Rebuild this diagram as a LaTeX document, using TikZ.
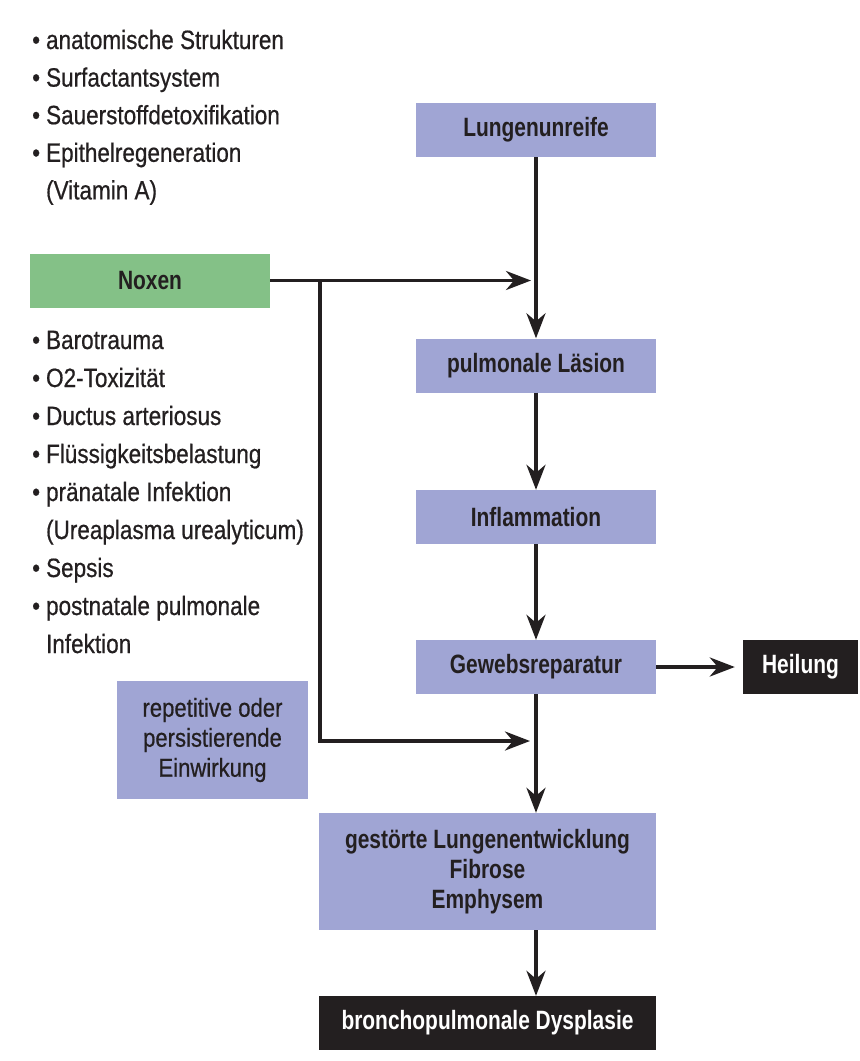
\documentclass[tikz,border=0pt]{standalone}
\usepackage{fontspec}
\setmainfont{Liberation Sans}[FakeStretch=0.85, UprightFeatures={FakeBold=0.6}, BoldFeatures={FakeStretch=0.79}]
\usetikzlibrary{arrows.meta}
\definecolor{boxblue}{RGB}{160,165,212}
\definecolor{boxgreen}{RGB}{132,193,135}
\definecolor{ink}{RGB}{35,31,32}
\tikzset{
  flowbox/.style={fill=boxblue, draw=none, minimum width=240pt, minimum height=54pt, inner sep=0pt, font=\fontsize{26.5}{30}\selectfont\bfseries, text=ink, align=center},
  greenbox/.style={flowbox, fill=boxgreen},
  blackbox/.style={fill=ink, draw=none, minimum height=54pt, inner sep=0pt, font=\fontsize{26.5}{30}\selectfont\bfseries, text=white, align=center},
  listtext/.style={anchor=base west, inner sep=0pt, text=ink, font=\fontsize{26.5}{38}\selectfont},
  conn/.style={draw=ink, line width=3.5pt},
  arr/.style={conn, -{Stealth[length=25pt, width=19pt, inset=8pt]}},
}
\begin{document}
\begin{tikzpicture}[x=1pt, y=-1pt]
\useasboundingbox[fill=white] (0,0) rectangle (860,1061);

% bullet lists
\node[listtext, font=\fontsize{26.5}{37.6}\selectfont] (list1) at (32,49) {\begin{tabular}[t]{@{}l@{\hspace{6pt}}l@{}}
\textbullet & anatomische Strukturen\\
\textbullet & Surfactantsystem\\
\textbullet & Sauerstoffdetoxifikation\\
\textbullet & Epithelregeneration\\
 & (Vitamin A)
\end{tabular}};
\node[listtext] (list2) at (32,349) {\begin{tabular}[t]{@{}l@{\hspace{6pt}}l@{}}
\textbullet & Barotrauma\\
\textbullet & O2-Toxizität\\
\textbullet & Ductus arteriosus\\
\textbullet & Flüssigkeitsbelastung\\
\textbullet & pränatale Infektion\\
 & (Ureaplasma urealyticum)\\
\textbullet & Sepsis\\
\textbullet & postnatale pulmonale\\
 & Infektion
\end{tabular}};

% boxes
\node[flowbox] (lu) at (536,130) {Lungenunreife};
\node[greenbox] (nox) at (150,280.5) {Noxen};
\node[flowbox] (pl) at (536,365.5) {pulmonale Läsion};
\node[flowbox] (inf) at (536,517) {Inflammation};
\node[flowbox] (gw) at (536,667) {Gewebsreparatur};
\node[blackbox, minimum width=115pt] (heil) at (800.5,667) {Heilung};
\node[fill=boxblue, minimum width=191pt, minimum height=118pt, inner sep=0pt, text=ink, align=center, font=\fontsize{26}{30}\selectfont] (rep) at (212.5,740) {repetitive oder\\persistierende\\Einwirkung};
\node[flowbox, minimum width=337pt, minimum height=117pt, font=\fontsize{26.5}{30}\selectfont\bfseries] (gs) at (487.5,871.5) {gestörte Lungenentwicklung\\Fibrose\\Emphysem};
\node[blackbox, minimum width=337pt] (bpd) at (487.5,1023) {bronchopulmonale Dysplasie};

% junctions
\coordinate (j1) at (536,280.5);
\coordinate (br) at (320,280.5);
\coordinate (j2) at (536,741);

% connectors
\draw[arr] (lu.south) -- (pl.north);
\draw[arr] (nox.east) -- ([xshift=-5pt]j1);
\draw[conn] (br) -- (br |- j2);
\draw[arr] ([xshift=-1.75pt]br |- j2) -- ([xshift=-6pt]j2);
\draw[arr] (pl.south) -- (inf.north);
\draw[arr] (inf.south) -- (gw.north);
\draw[arr] (gw.east) -- ([xshift=-8pt]heil.west);
\draw[arr] (gw.south) -- (gw.south |- gs.north);
\draw[arr] (gw.south |- gs.south) -- (gw.south |- bpd.north);
\end{tikzpicture}
\end{document}
